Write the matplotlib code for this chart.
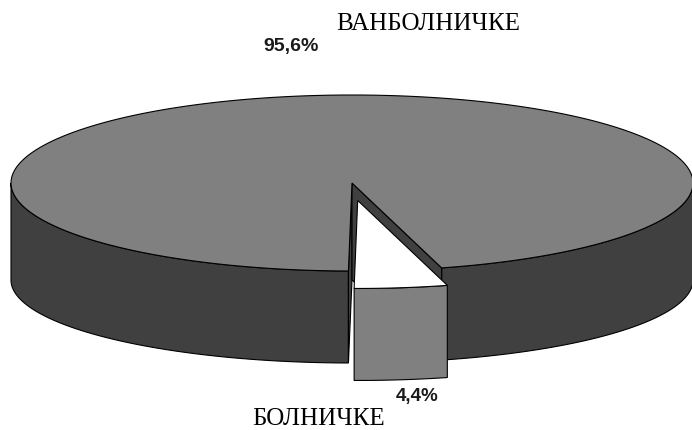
import numpy as np
import matplotlib.pyplot as plt
from matplotlib.patches import Polygon

# udeli po mesto na lekuvanje
labels = ["ВАНБОЛНИЧКЕ", "БОЛНИЧКЕ"]
values = [95.6, 4.4]
pct_text = ["95,6%", "4,4%"]

top_colors = ["#808080", "#ffffff"]
side_colors = ["#404040", "#808080"]

# geometrija na 3D pitata (vo pikseli)
cx, cy = 352, 183
rx, ry = 341, 88
# dolnata elipsa e malku posploskata
cy_b, ry_b = 280, 83
explode = [0.0, 0.2]
start = -90.6


def pt(t, dx=0, dy=0, bottom=False):
    r = np.radians(t)
    if bottom:
        return (cx + rx * np.cos(r) + dx, cy_b - ry_b * np.sin(r) + dy)
    return (cx + rx * np.cos(r) + dx, cy - ry * np.sin(r) + dy)


def arc(t0, t1, dx=0, dy=0, bottom=False, n=120):
    ts = np.linspace(t0, t1, n)
    return [pt(t, dx, dy, bottom) for t in ts]


fig = plt.figure(figsize=(6.92, 4.30), dpi=100)
ax = fig.add_axes([0, 0, 1, 1])
ax.set_xlim(0, 692)
ax.set_ylim(430, 0)
ax.axis("off")

# agli na parcinjata
spans = [v / sum(values) * 360 for v in values]
small0 = start
small1 = start + spans[1]
big0 = small1
big1 = big0 + spans[0]

ec = dict(edgecolor="black", linewidth=0.8)

# golemo parce: bocni zidovi
for t0, t1 in [(180, big1), (big0, 0)]:
    poly = arc(t0, t1) + arc(t0, t1, bottom=True)[::-1]
    ax.add_patch(Polygon(poly, facecolor=side_colors[0], **ec))

for t in [big1, big0]:
    poly = [(cx, cy), pt(t), pt(t, bottom=True), (cx, cy_b)]
    ax.add_patch(Polygon(poly, facecolor=side_colors[0], **ec))

# golemo parce: gorna strana
poly = [(cx, cy)] + arc(big0, big1, n=400)
ax.add_patch(Polygon(poly, facecolor=top_colors[0], **ec))

# malo parce, izvadeno napred
tb = np.radians((small0 + small1) / 2)
dx = explode[1] * rx * np.cos(tb) - 3
dy = -explode[1] * ry * np.sin(tb)
poly = arc(small0, small1, dx, dy) + arc(small0, small1, dx, dy, bottom=True)[::-1]
ax.add_patch(Polygon(poly, facecolor=side_colors[1], **ec))
poly = [(cx + dx, cy + dy)] + arc(small0, small1, dx, dy)
ax.add_patch(Polygon(poly, facecolor=top_colors[1], **ec))

# natpisi
serif = ["Liberation Serif", "DejaVu Serif"]
narrow = ["Liberation Sans Narrow", "Liberation Sans", "DejaVu Sans"]
ax.text(428, 24, labels[0], fontsize=18, family=serif, ha="center", va="center")
ax.text(291, 47, pct_text[0], fontsize=14, family=narrow, weight="bold",
        ha="center", va="center", color="#1a1a1a")
ax.text(417, 396, pct_text[1], fontsize=13.5, family=narrow, weight="bold",
        ha="center", va="center", color="#1a1a1a")
ax.text(319, 419, labels[1], fontsize=18, family=serif, ha="center", va="center")

fig.savefig("out.png", dpi=100)
